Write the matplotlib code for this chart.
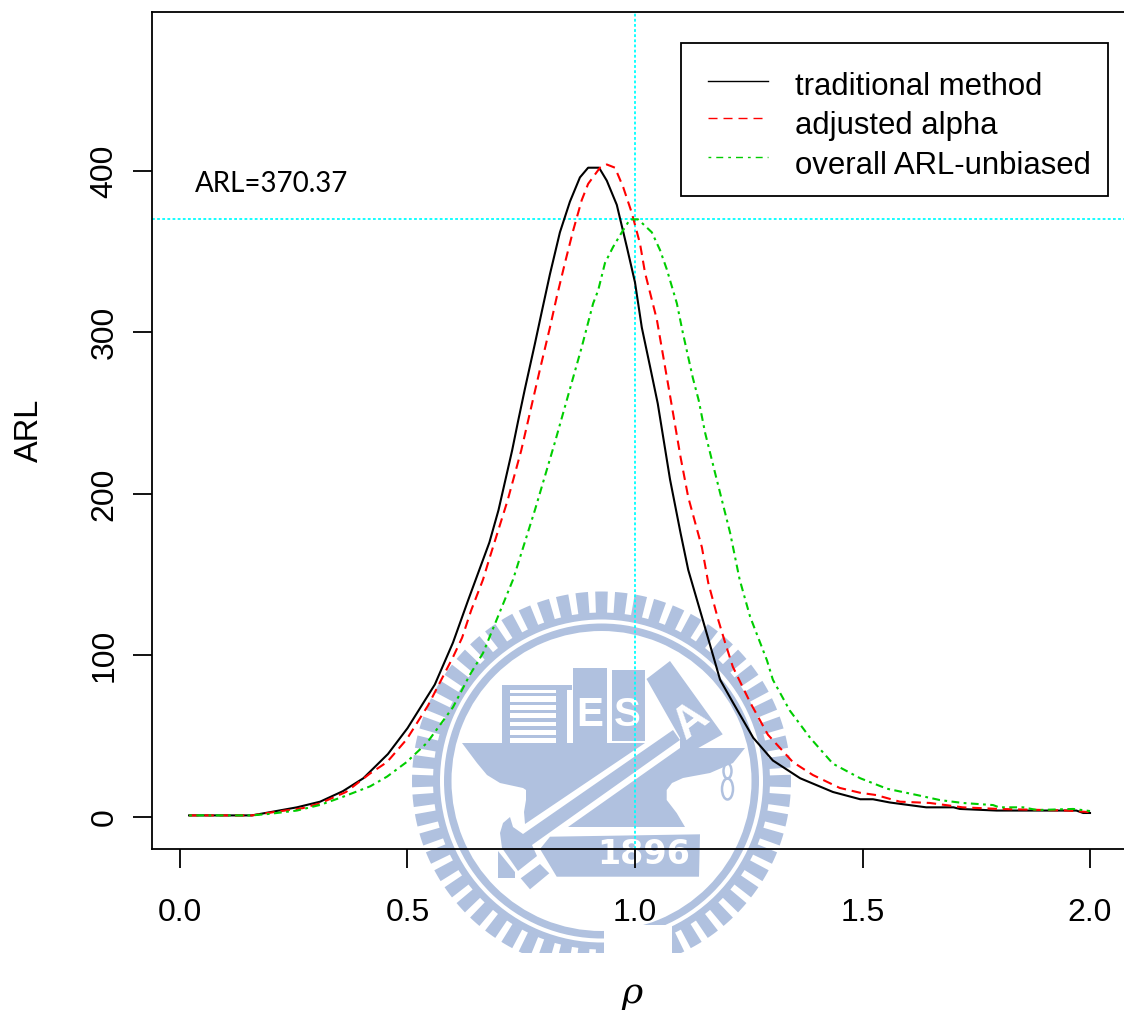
import numpy as np
import matplotlib
matplotlib.use("Agg")
import matplotlib.pyplot as plt
from matplotlib.lines import Line2D
from matplotlib.patches import Polygon, Rectangle, Wedge, Ellipse

plt.rcParams['font.family'] = ['Liberation Sans', 'DejaVu Sans']
plt.rcParams['lines.scale_dashes'] = False

# ---------- data ----------
rho_trad = [0.02,0.158,0.198,0.257,0.308,0.358,0.403,0.457,0.50,0.56,0.60,0.633,0.68,0.70,0.73,0.743,0.758,0.78,0.796,0.813,0.835,0.857,0.879,0.897,0.921,0.938,0.96,0.982,1.0,1.015,1.033,1.05,1.077,1.10,1.117,1.147,1.187,1.215,1.26,1.303,1.363,1.435,1.495,1.523,1.56,1.64,1.70,1.714,1.795,1.97,1.985,2.0]
arl_trad = [1,1,3,6,9.5,16,24,39,55,82,108,134,170,190,227,245,265,293,314,336,362,381,396,402,402,394,379,353,331,303,279,256,209,176,153,124,85,71,49,35,24,15.5,11,11,9,6,6,5,4,4,2.5,2.5]

rho_adj = [0.02,0.158,0.205,0.27,0.308,0.365,0.418,0.455,0.498,0.545,0.60,0.62,0.64,0.666,0.68,0.72,0.75,0.791,0.813,0.828,0.846,0.864,0.883,0.897,0.923,0.938,0.956,0.974,0.993,1.011,1.022,1.048,1.08,1.10,1.117,1.147,1.161,1.183,1.198,1.215,1.253,1.292,1.347,1.391,1.45,1.495,1.53,1.582,1.648,1.72,1.80,1.95,2.0]
arl_adj = [1,1,3,5.5,8.5,15.5,27,34,48,69,99,111,128,147,160,196,227,277,303,322,343,363,382,392,402,404,402,390,374,355,337,308,256,223,198,167,145,122,108,93,71,51,34,26,18,15,13.6,9.5,8.7,6,5,4,3]

rho_ovr = [0.02,0.158,0.198,0.257,0.308,0.358,0.418,0.455,0.498,0.543,0.60,0.637,0.666,0.703,0.732,0.78,0.824,0.846,0.864,0.883,0.908,0.919,0.934,0.952,0.971,0.989,1.007,1.037,1.055,1.07,1.092,1.105,1.127,1.14,1.154,1.176,1.209,1.23,1.253,1.29,1.303,1.34,1.385,1.435,1.495,1.554,1.62,1.67,1.72,1.787,1.80,1.853,1.884,1.963,2.0]
arl_ovr = [1,1,2,4,7.5,12.5,19,25,34,46,68,88,101.5,127,147,190,232,254,272,291,318,326,343,353,362,370,370,362,351,339,318,300,272,258,238,213,176,147,124,97,85,66,49,33,24,17.5,13.6,10.5,8.7,7.4,6,6,4.3,5,3.7]

series_labels = ['traditional method', 'adjusted alpha', 'overall ARL-unbiased']
x_ticks = [0.0, 0.5, 1.0, 1.5, 2.0]
x_tick_labels = ['0.0', '0.5', '1.0', '1.5', '2.0']
y_ticks = [0, 100, 200, 300, 400]
ref_rho = 1.0
ref_arl = 370.37

# ---------- layout ----------
W, H = 1124, 1014
BLUE = '#B0C1DF'
fig = plt.figure(figsize=(W/100, H/100), dpi=100, facecolor='white')

# background layer in pixel coordinates, for the watermark
bg = fig.add_axes([0, 0, 1, 1], zorder=0)
bg.set_xlim(0, W); bg.set_ylim(H, 0); bg.axis('off')

cx, cy = 601.5, 781.0
def wedge(r0, r1, t0=0, t1=360, color=BLUE):
    # y axis is flipped: mirror the angles
    bg.add_patch(Wedge((cx, cy), r1, -t1, -t0, width=r1-r0, fc=color, ec='none'))
for k in range(60):
    wedge(167.0, 189.5, k*6-1.9, k*6+1.9)
wedge(161.5, 168.5)
wedge(150.0, 157.5)

def poly(pts, color=BLUE):
    bg.add_patch(Polygon(pts, closed=True, fc=color, ec='none'))

def rect(x0, y0, x1, y1, color=BLUE):
    bg.add_patch(Rectangle((x0, y0), x1-x0, y1-y0, fc=color, ec='none'))

# shelf and books
rect(501.7, 685, 510, 743)
rect(501.7, 685, 571.5, 689.5)
rect(555.5, 685, 566.5, 744)
for y0 in (693, 702, 710, 718.5, 726.5, 735):
    rect(507, y0-0.5, 556, y0+3.2)
rect(572.7, 667.7, 606.7, 744)
rect(611.7, 670, 645, 741)
bg.text(590, 715.5, 'E', color='white', fontsize=29, fontweight='bold', ha='center', va='center')
bg.text(627, 715.5, 'S', color='white', fontsize=29, fontweight='bold', ha='center', va='center')
# anvil
poly([(462,743),(645,743),(525,824),(524,812),(526,800),(526,790),(523,788),(500,783),(487,775),(477,763)])
poly([(680,748),(745,748),(733,763),(710,773),(683,778),(672,783),(666.7,790),(666.7,800),(676.7,813),(685,827),(568,827)])
# hammer
poly([(646.5,679),(670,661),(722.7,734.3),(698.3,748),(680,748),(680,738)])
poly([(673,730),(680,740),(532,845),(537,856),(518,871),(502,848),(500,833),(503,823),(510,817),(513,827),(523,834)])
poly([(498,851),(515,872),(515,878),(498,878)])
poly([(540,864),(549.3,873.3),(530,889.3),(520.7,878.3)])
bg.text(691, 721, 'A', color='white', fontsize=32, fontweight='bold', ha='center', va='center', rotation=38)
# plate
poly([(550,836.7),(700,834.3),(699,876.7),(556.7,876.7),(540,849)])
bg.text(644, 855, '1896', color='white', fontsize=24, fontweight='bold', family=['DejaVu Sans'], ha='center', va='center')
# the small eight
bg.add_patch(Ellipse((727.5, 771), 8, 15, fc='none', ec=BLUE, lw=1.8))
bg.add_patch(Ellipse((727.5, 789), 11, 21, fc='none', ec=BLUE, lw=1.8))
# white patches cutting the logo
rect(603.5, 925, 672, 960, 'white')
rect(380, 953, 830, 1000, 'white')

# main axes
ax = fig.add_axes([152/W, 1-849/H, (W-152)/W, (849-12)/H], zorder=1)
ax.patch.set_alpha(0)
ax.set_xlim(-0.0615, 2.0747)
ax.set_ylim(-19.8, 498.4)
ax.spines['right'].set_visible(False)
for s in ax.spines.values():
    s.set_linewidth(1.3)

ax.axvline(ref_rho, color='#00FFFF', lw=1.3, dashes=(2.0, 1.7), zorder=2)
ax.axhline(ref_arl, color='#00FFFF', lw=1.3, dashes=(2.0, 1.7), zorder=2)

ax.plot(rho_trad, arl_trad, color='black', lw=1.5, zorder=3, solid_joinstyle='round')
ax.plot(rho_adj, arl_adj, color='#FF0000', lw=1.5, dashes=(6.8, 4.2), zorder=4)
ax.plot(rho_ovr, arl_ovr, color='#00CD00', lw=1.5, dashes=(2.0, 3.2, 5.6, 3.2), zorder=5)

ax.set_xticks(x_ticks, x_tick_labels)
ax.set_yticks(y_ticks, [str(v) for v in y_ticks])
ax.tick_params(axis='x', length=13.5, width=1.3, pad=22, labelsize=23)
ax.tick_params(axis='y', length=13.5, width=1.3, pad=10, labelsize=23)
for t in ax.get_yticklabels():
    t.set_rotation(90); t.set_va('center')

fig.text(29/W, 1-430/H, 'ARL', rotation=90, fontsize=23.5, ha='center', va='center')
fig.text(632/W, 1-993/H, 'ρ', fontsize=26, style='italic', family=['DejaVu Serif'], ha='center', va='center')
ax.text(195, 184, 'ARL=370.37', transform=bg.transData, fontsize=20, family=['Lato'], ha='left', va='center')

# legend
ax.add_patch(Rectangle((681, 43), 426.5, 153, transform=bg.transData, fc='white', ec='black', lw=1.3, zorder=6, clip_on=False))
handles = [Line2D([], [], color='black', lw=1.0),
           Line2D([], [], color='#FF0000', lw=1.0, dashes=(6.5, 4.3)),
           Line2D([], [], color='#00CD00', lw=1.0, dashes=(2.0, 3.6, 5.0, 3.6))]
LEG_FS = 22.4
leg = ax.legend(handles, series_labels, loc='upper left', bbox_to_anchor=(708, 72), bbox_transform=bg.transData,
                frameon=False, borderaxespad=0, borderpad=0, fontsize=LEG_FS,
                handlelength=60/(LEG_FS/0.72), handletextpad=27/(LEG_FS/0.72), labelspacing=0.3)
leg.set_zorder(7)
# the key lines sit a little above their labels in the reference
for h, dy in zip(leg.legend_handles, (3, 5, 6)):
    h.set_ydata(np.asarray(h.get_ydata()) + dy*0.72)

fig.savefig('out.png', dpi=100, facecolor='white')
